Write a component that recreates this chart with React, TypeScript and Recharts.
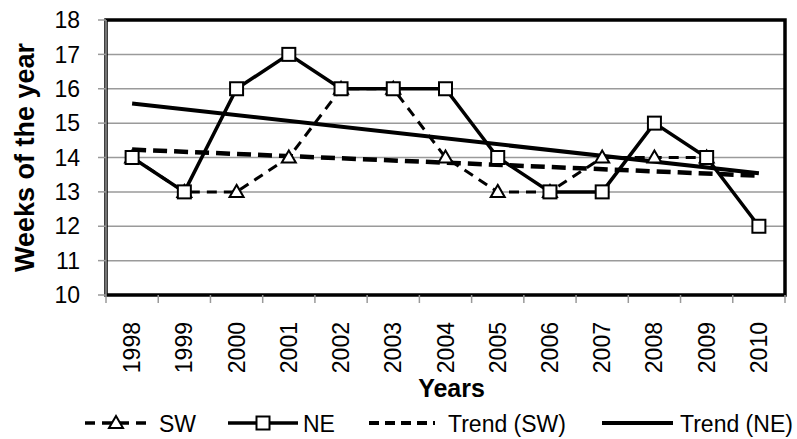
import { LineChart, Line, XAxis, YAxis, CartesianGrid, ReferenceArea, Legend, Label } from 'recharts';

const years = ['1998', '1999', '2000', '2001', '2002', '2003', '2004', '2005', '2006', '2007', '2008', '2009', '2010'];
const swWeeks = [14, 13, 13, 14, 16, 16, 14, 13, 13, 14, 14, 14, null];
const neWeeks = [14, 13, 16, 17, 16, 16, 16, 14, 13, 13, 15, 14, 12];
// linear trends: only the two end values are kept, the line joins them
const swTrend = [14.23, null, null, null, null, null, null, null, null, null, null, null, 13.47];
const neTrend = [15.57, null, null, null, null, null, null, null, null, null, null, null, 13.54];
const weekTicks = [10, 11, 12, 13, 14, 15, 16, 17, 18];

const data = years.map((year, i) => ({
  year,
  sw: swWeeks[i],
  ne: neWeeks[i],
  swTrend: swTrend[i],
  neTrend: neTrend[i],
}));

const WIDTH = 797;
const HEIGHT = 439;
const MARGIN = { top: 20, right: 12, bottom: 2, left: 0 };
const Y_AXIS_W = 106;
const PLOT_W = WIDTH - Y_AXIS_W - MARGIN.right;
const HALF_BAND = PLOT_W / years.length / 2;
const FONT = '"Liberation Sans", Arial, sans-serif';
const GRID = '#9a9a9a';

function Triangle({ cx, cy, key }: any) {
  if (cx == null || cy == null) return <g key={key} />;
  return (
    <polygon
      key={key}
      points={`${cx},${cy - 7} ${cx + 7},${cy + 5} ${cx - 7},${cy + 5}`}
      fill="#fff"
      stroke="#000"
      strokeWidth={2}
    />
  );
}

function Square({ cx, cy, key }: any) {
  if (cx == null || cy == null) return <g key={key} />;
  return <rect key={key} x={cx - 6.5} y={cy - 6.5} width={13} height={13} fill="#fff" stroke="#000" strokeWidth={2} />;
}

function YearTick({ x, y, payload, index }: any) {
  const ty = y + 27;
  return (
    <g>
      <line x1={x - HALF_BAND} x2={x - HALF_BAND} y1={y} y2={y + 8} stroke={GRID} strokeWidth={1.5} />
      {index === years.length - 1 && (
        <line x1={x + HALF_BAND} x2={x + HALF_BAND} y1={y} y2={y + 8} stroke={GRID} strokeWidth={1.5} />
      )}
      <text
        x={x}
        y={ty}
        transform={`rotate(-90, ${x}, ${ty})`}
        textAnchor="end"
        dominantBaseline="central"
        fontSize={23}
        fontFamily={FONT}
        fill="#000"
      >
        {payload.value}
      </text>
    </g>
  );
}

function YTitle({ viewBox }: any) {
  const cx = 25;
  const cy = viewBox.y + viewBox.height / 2;
  return (
    <text
      x={cx}
      y={cy}
      transform={`rotate(-90, ${cx}, ${cy})`}
      textAnchor="middle"
      dominantBaseline="central"
      fontSize={27}
      fontWeight="bold"
      fontFamily={FONT}
      fill="#000"
    >
      Weeks of the year
    </text>
  );
}

function XTitle({ viewBox }: any) {
  return (
    <text
      x={viewBox.x + viewBox.width / 2 + 6}
      y={viewBox.y + 102}
      textAnchor="middle"
      fontSize={25}
      fontWeight="bold"
      fontFamily={FONT}
      fill="#000"
    >
      Years
    </text>
  );
}

function ChartLegend() {
  const cy = 18;
  const ty = 27;
  const textProps = { fontSize: 23, fontFamily: FONT, fill: '#000' };
  return (
    <svg width={WIDTH} height={32} style={{ display: 'block' }}>
      <line x1={85} x2={147} y1={cy} y2={cy} stroke="#000" strokeWidth={3.5} strokeDasharray="10 7" />
      <polygon points={`116,${cy - 7} 123,${cy + 5} 109,${cy + 5}`} fill="#fff" stroke="#000" strokeWidth={2} />
      <text x={159} y={ty} {...textProps}>SW</text>

      <line x1={228} x2={298} y1={cy} y2={cy} stroke="#000" strokeWidth={3.5} />
      <rect x={256.5} y={cy - 6.5} width={13} height={13} fill="#fff" stroke="#000" strokeWidth={2} />
      <text x={303} y={ty} {...textProps}>NE</text>

      <line x1={369} x2={435} y1={cy} y2={cy} stroke="#000" strokeWidth={4} strokeDasharray="10 6" />
      <text x={448} y={ty} {...textProps}>Trend (SW)</text>

      <line x1={602} x2={673} y1={cy} y2={cy} stroke="#000" strokeWidth={4} />
      <text x={680} y={ty} {...textProps}>Trend (NE)</text>
    </svg>
  );
}

export default function App() {
  return (
    <div style={{ position: 'absolute', left: 0, top: 0, background: '#fff' }}>
      <LineChart width={WIDTH} height={HEIGHT} data={data} margin={MARGIN}>
        <CartesianGrid vertical={false} stroke={GRID} strokeWidth={1.5} />
        <ReferenceArea y1={10} y2={18} fill="none" stroke="#000" strokeWidth={3.5} />
        <XAxis
          dataKey="year"
          scale="band"
          height={110}
          interval={0}
          axisLine={false}
          tickLine={false}
          tickSize={0}
          tickMargin={0}
          tick={<YearTick />}
        >
          <Label content={<XTitle />} />
        </XAxis>
        <YAxis
          width={Y_AXIS_W}
          domain={[10, 18]}
          ticks={weekTicks}
          interval={0}
          axisLine={{ stroke: GRID, strokeWidth: 1.5 }}
          tickLine={{ stroke: GRID, strokeWidth: 1.5 }}
          tickSize={8}
          tickMargin={18}
          tick={{ fontSize: 23, fontFamily: FONT, fill: '#000' }}
        >
          <Label content={<YTitle />} />
        </YAxis>
        <Legend verticalAlign="bottom" height={32} wrapperStyle={{ left: 0, width: WIDTH }} content={<ChartLegend />} />
        <Line
          dataKey="sw"
          name="SW"
          type="linear"
          stroke="#000"
          strokeWidth={3}
          strokeDasharray="10 7"
          dot={Triangle}
          activeDot={false}
          isAnimationActive={false}
        />
        <Line
          dataKey="ne"
          name="NE"
          type="linear"
          stroke="#000"
          strokeWidth={3.5}
          dot={Square}
          activeDot={false}
          isAnimationActive={false}
        />
        <Line
          dataKey="swTrend"
          name="Trend (SW)"
          type="linear"
          stroke="#000"
          strokeWidth={4.5}
          strokeDasharray="14 7"
          dot={false}
          activeDot={false}
          connectNulls
          isAnimationActive={false}
        />
        <Line
          dataKey="neTrend"
          name="Trend (NE)"
          type="linear"
          stroke="#000"
          strokeWidth={4}
          dot={false}
          activeDot={false}
          connectNulls
          isAnimationActive={false}
        />
      </LineChart>
    </div>
  );
}
